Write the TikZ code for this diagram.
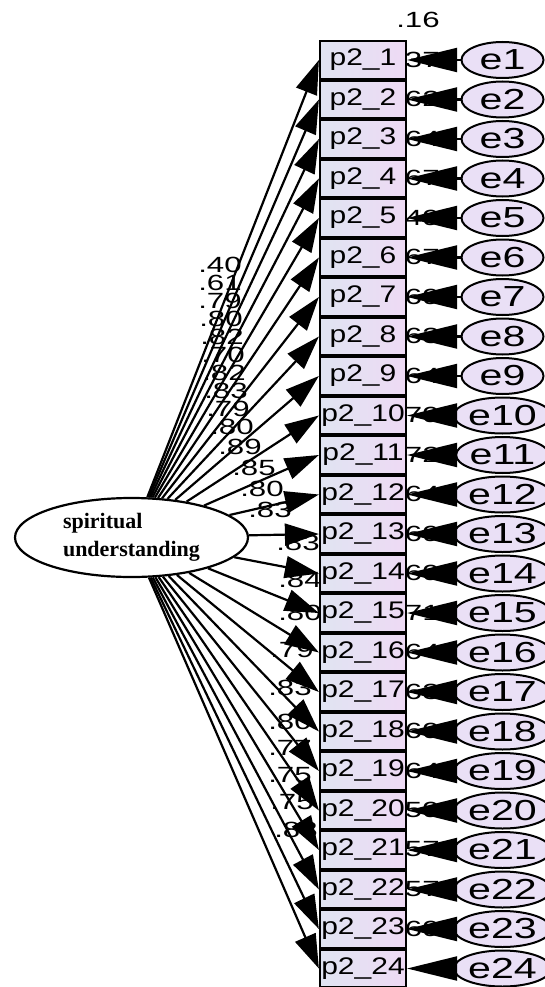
\documentclass[tikz,border=0pt]{standalone}
\usepackage{fontspec}
\setmainfont{Liberation Sans}
\newfontfamily\latfont{Liberation Serif}
\usetikzlibrary{arrows.meta,shapes.geometric}
\newcommand\wbox[1]{\scalebox{1.25}[1]{#1}}
\newcommand\wide[1]{\scalebox{1.42}[1]{#1}}
\definecolor{boxL}{RGB}{224,228,242}
\definecolor{boxR}{RGB}{238,218,244}
\definecolor{errfill}{RGB}{234,224,246}
\tikzset{
  boxnode/.style={draw=black, line width=2.2pt, left color=boxL, right color=boxR,
    minimum width=86pt, minimum height=38pt, inner sep=0pt,
    font=\fontsize{24}{24}\selectfont},
  errnode/.style={ellipse, draw=black, line width=2pt, fill=errfill,
    minimum width=82pt, minimum height=36pt, inner sep=0pt,
    font=\fontsize{29}{29}\selectfont},
  latnode/.style={ellipse, draw=black, line width=2.2pt, fill=white,
    minimum width=233pt, minimum height=79pt, inner sep=0pt, align=left,
    font=\latfont\bfseries\fontsize{22}{28}\selectfont},
  numlabel/.style={inner sep=0pt, font=\fontsize{22}{22}\selectfont},
  patharrow/.style={line width=2.2pt, -{Triangle[length=34pt,width=22pt]}},
  errarrow/.style={line width=2.2pt, -{Triangle[length=50pt,width=24pt]}}
}
\begin{document}
\begin{tikzpicture}[x=1pt,y=-1pt]
\useasboundingbox (0,0) rectangle (544,987);
% squared multiple correlations
\foreach \k/\v in {1/.16,2/.37,3/.62,4/.64,5/.67,6/.49,7/.67,8/.69,9/.63,10/.64,11/.79,12/.72,13/.64,14/.69,15/.69,16/.71,17/.64,18/.63,19/.69,20/.64,21/.59,22/.57,23/.57,24/.69}{
  \node[numlabel] (r\k) at (418,{20+(\k-1)*39.5}) {\wide{\v}};
}
% loadings
\foreach \k/\v/\x/\y in {1/.40/220/265,2/.61/220/283,3/.79/220/301,4/.80/221/319,5/.82/222/337,6/.70/223/355,7/.82/224/373,8/.83/226/391,9/.79/228/409,10/.80/232/427,11/.89/240/447,12/.85/254/468,13/.80/262/489,14/.83/270/510,15/.83/298/543,16/.84/300/580,17/.80/300/613,18/.79/292/650,19/.83/290/688,20/.80/290/722,21/.77/290/748,22/.75/290/775,23/.75/292/802,24/.83/296/830}{
  \node[numlabel] (l\k) at (\x,\y) {\wide{\v}};
}
% latent variable
\node[latnode] (lat) at (131.5,537.5) {spiritual\\understanding};
% observed variables and errors
\foreach \k in {1,...,24}{
  \node[boxnode] (p\k) at (363,{60+(\k-1)*39.5}) {\wbox{p2\_\k}};
  \node[errnode] (e\k) at (502.5,{60+(\k-1)*39.5}) {\wide{e\k}};
}
\foreach \k in {1,...,24}{
  \draw[patharrow] (lat) -- (p\k.west);
  \draw[errarrow] (e\k) -- (p\k.east);
}
\end{tikzpicture}
\end{document}
